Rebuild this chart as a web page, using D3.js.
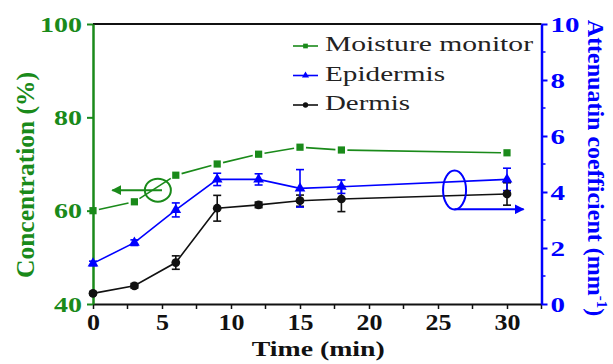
<!DOCTYPE html>
<html>
<head>
<meta charset="utf-8">
<script src="https://cdn.jsdelivr.net/npm/d3@7"></script>
<style>
  body { margin: 0; background: #fff; }
  svg { display: block; }
  text { font-family: "Liberation Serif", "Times New Roman", serif; }
</style>
</head>
<body>
<svg id="chart" width="613" height="364"></svg>
<script>
// data
const times = [0, 3, 6, 9, 12, 15, 18, 30]
const moisture = [60.0, 61.9, 67.6, 70.0, 72.1, 73.6, 73.0, 72.4]
const epidermis = [1.45, 2.19, 3.36, 4.45, 4.45, 4.13, 4.19, 4.45]
const epidermisErr = [0.08, 0.1, 0.25, 0.22, 0.2, 0.67, 0.24, 0.4]
const dermis = [0.38, 0.65, 1.48, 3.42, 3.54, 3.69, 3.75, 3.93]
const dermisErr = [0.05, 0.08, 0.24, 0.46, 0.1, 0.2, 0.45, 0.4]

const xTicks = [0, 5, 10, 15, 20, 25, 30]
const xMinor = [2.5, 7.5, 12.5, 17.5, 22.5, 27.5, 32.5]
const leftTicks = [40, 60, 80, 100]
const rightTicks = [0, 2, 4, 6, 8, 10]
const rightMinor = [1, 3, 5, 7, 9]
const legendNames = ["Moisture monitor", "Epidermis", "Dermis"]

const green = "#1a8a1a", blue = "#0000ff", black = "#111"
const serif = "Liberation Serif"

const svg = d3.select("#chart").attr("font-family", serif)
const pLeft = 93, pRight = 541.5, pTop = 24, pBottom = 304

const x = d3.scaleLinear().domain([0, 32.5]).range([pLeft, pRight])
const yL = d3.scaleLinear().domain([40, 100]).range([pBottom, pTop])
const yR = d3.scaleLinear().domain([0, 10]).range([pBottom, pTop])

// top frame line
svg.append("line")
  .attr("x1", pLeft).attr("x2", pRight).attr("y1", pTop).attr("y2", pTop)
  .attr("stroke", black).attr("stroke-width", 2)

// bottom axis
const gx = svg.append("g").attr("transform", `translate(0,${pBottom})`)
gx.call(d3.axisBottom(x).tickValues(xTicks).tickSize(5).tickSizeOuter(0).tickPadding(5).tickFormat(d3.format("d")))
gx.attr("font-family", serif)
gx.selectAll(".minor").data(xMinor).enter().append("line")
  .attr("x1", d => x(d)).attr("x2", d => x(d)).attr("y1", 0).attr("y2", 5)
  .attr("stroke", black).attr("stroke-width", 1.5)
gx.select(".domain").attr("stroke", black).attr("stroke-width", 2)
gx.selectAll(".tick line").attr("stroke", black).attr("stroke-width", 1.5)
gx.selectAll(".tick text")
  .attr("fill", black).attr("font-size", 23).attr("font-weight", "bold")
  .attr("textLength", d => String(d).length * 13).attr("lengthAdjust", "spacingAndGlyphs")

// left axis
const gl = svg.append("g").attr("transform", `translate(${pLeft},0)`)
gl.call(d3.axisLeft(yL).tickValues(leftTicks).tickSize(6).tickSizeOuter(0).tickPadding(5))
gl.attr("font-family", serif)
gl.select(".domain").attr("stroke", green).attr("stroke-width", 2.5)
gl.selectAll(".tick line").attr("stroke", green).attr("stroke-width", 2)
gl.selectAll(".tick text")
  .attr("fill", green).attr("font-size", 22).attr("font-weight", "bold")
  .attr("textLength", d => String(d).length * 14).attr("lengthAdjust", "spacingAndGlyphs")

// right axis
const gr = svg.append("g").attr("transform", `translate(${pRight},0)`)
gr.call(d3.axisRight(yR).tickValues(rightTicks).tickSize(6).tickSizeOuter(0).tickPadding(3))
gr.attr("font-family", serif)
gr.selectAll(".minor").data(rightMinor).enter().append("line")
  .attr("x1", 0).attr("x2", 4).attr("y1", d => yR(d)).attr("y2", d => yR(d))
  .attr("stroke", blue).attr("stroke-width", 1.5)
gr.select(".domain").attr("stroke", blue).attr("stroke-width", 2.5)
gr.selectAll(".tick line").attr("stroke", blue).attr("stroke-width", 2)
gr.selectAll(".tick text")
  .attr("fill", blue).attr("font-size", 22).attr("font-weight", "bold")
  .attr("textLength", d => String(d).length * 14.5).attr("lengthAdjust", "spacingAndGlyphs")

// axis titles
svg.append("text")
  .attr("x", (pLeft + pRight) / 2 + 1).attr("y", 356)
  .attr("text-anchor", "middle").attr("font-size", 21).attr("font-weight", "bold")
  .attr("fill", black).attr("textLength", 133).attr("lengthAdjust", "spacingAndGlyphs")
  .text("Time (min)")

svg.append("text")
  .attr("transform", "translate(34,175) rotate(-90)")
  .attr("text-anchor", "middle").attr("font-size", 25).attr("font-weight", "bold")
  .attr("fill", green).attr("textLength", 206).attr("lengthAdjust", "spacingAndGlyphs")
  .text("Concentration (%)")

const rt = svg.append("text")
  .attr("transform", "translate(588,168) rotate(90)")
  .attr("text-anchor", "middle").attr("font-size", 24).attr("font-weight", "bold")
  .attr("fill", blue)
rt.append("tspan").text("Attenuatin coefficient (mm")
rt.append("tspan").attr("font-size", 15).attr("dy", -9).text("-1")
rt.append("tspan").attr("dy", 9).text(")")

// error bars
function errorBars(vals, errs, color) {
  const g = svg.append("g").attr("stroke", color).attr("stroke-width", 1.6)
  times.forEach((t, i) => {
    const cx = x(t), y1 = yR(vals[i] - errs[i]), y2 = yR(vals[i] + errs[i])
    g.append("line").attr("x1", cx).attr("x2", cx).attr("y1", y1).attr("y2", y2)
    g.append("line").attr("x1", cx - 4).attr("x2", cx + 4).attr("y1", y1).attr("y2", y1)
    g.append("line").attr("x1", cx - 4).attr("x2", cx + 4).attr("y1", y2).attr("y2", y2)
  })
}
errorBars(dermis, dermisErr, black)
errorBars(epidermis, epidermisErr, blue)

// lines
const lineR = d3.line().x((d, i) => x(times[i])).y(d => yR(d))
svg.append("path").datum(dermis).attr("d", lineR)
  .attr("fill", "none").attr("stroke", black).attr("stroke-width", 1.6)
svg.append("path").datum(epidermis).attr("d", lineR)
  .attr("fill", "none").attr("stroke", blue).attr("stroke-width", 1.6)

// green line with gaps next to the symbols
const gap = 6
for (let i = 0; i < times.length - 1; i++) {
  const x1 = x(times[i]), y1 = yL(moisture[i]), x2 = x(times[i + 1]), y2 = yL(moisture[i + 1])
  const len = Math.hypot(x2 - x1, y2 - y1), ux = (x2 - x1) / len, uy = (y2 - y1) / len
  svg.append("line")
    .attr("x1", x1 + ux * gap).attr("y1", y1 + uy * gap)
    .attr("x2", x2 - ux * gap).attr("y2", y2 - uy * gap)
    .attr("stroke", green).attr("stroke-width", 1.6)
}

// markers
const sq = d3.symbol().type(d3.symbolSquare).size(52)
const tri = d3.symbol().type(d3.symbolTriangle).size(50)
const circ = d3.symbol().type(d3.symbolCircle).size(60)
svg.selectAll(".m-green").data(moisture).enter().append("path")
  .attr("transform", (d, i) => `translate(${x(times[i])},${yL(d)})`)
  .attr("d", sq).attr("fill", green)
svg.selectAll(".m-blue").data(epidermis).enter().append("path")
  .attr("transform", (d, i) => `translate(${x(times[i])},${yR(d)})`)
  .attr("d", tri).attr("fill", blue)
svg.selectAll(".m-black").data(dermis).enter().append("path")
  .attr("transform", (d, i) => `translate(${x(times[i])},${yR(d)})`)
  .attr("d", circ).attr("fill", black)

// annotations: green circle + arrow to left axis, blue ellipse + arrow to right axis
svg.append("defs").selectAll("marker").data([["ag", green], ["ab", blue]]).enter()
  .append("marker").attr("id", d => d[0])
  .attr("viewBox", "0 0 10 10").attr("refX", 9).attr("refY", 5)
  .attr("markerWidth", 5).attr("markerHeight", 5).attr("orient", "auto")
  .append("path").attr("d", "M0,0 L10,5 L0,10 Z").attr("fill", d => d[1])

svg.append("ellipse")
  .attr("cx", x(4.7)).attr("cy", yL(64.4)).attr("rx", 13).attr("ry", 11.5)
  .attr("fill", "none").attr("stroke", green).attr("stroke-width", 2)
svg.append("line")
  .attr("x1", x(5.0)).attr("y1", yL(64.4)).attr("x2", x(1.4)).attr("y2", yL(64.4))
  .attr("stroke", green).attr("stroke-width", 2).attr("marker-end", "url(#ag)")

svg.append("ellipse")
  .attr("cx", x(26.2)).attr("cy", yR(4.07)).attr("rx", 11.5).attr("ry", 19.5)
  .attr("fill", "none").attr("stroke", blue).attr("stroke-width", 2)
svg.append("line")
  .attr("x1", x(26.2)).attr("y1", yR(3.38)).attr("x2", x(31.2)).attr("y2", yR(3.38))
  .attr("stroke", blue).attr("stroke-width", 2).attr("marker-end", "url(#ab)")

// legend
const legendColors = [green, blue, black]
const legendSyms = [sq, tri, circ]
const lg = svg.append("g")
legendNames.forEach((name, i) => {
  const ly = 46 + i * 29.5
  lg.append("line").attr("x1", 293).attr("x2", 318).attr("y1", ly).attr("y2", ly)
    .attr("stroke", legendColors[i]).attr("stroke-width", 1.6)
  lg.append("path").attr("transform", `translate(305.5,${ly})`)
    .attr("d", legendSyms[i].size(22)).attr("fill", legendColors[i])
  lg.append("text").attr("x", 325).attr("y", ly + 5)
    .attr("font-family", serif).attr("font-size", 21).attr("fill", "#222")
    .attr("textLength", [208, 120, 85][i]).attr("lengthAdjust", "spacingAndGlyphs")
    .text(name)
})
</script>
</body>
</html>
